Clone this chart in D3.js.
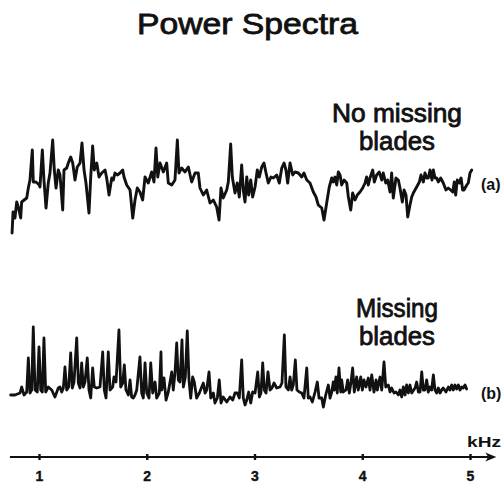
<!DOCTYPE html>
<html>
<head>
<meta charset="utf-8">
<script src="https://cdn.jsdelivr.net/npm/d3@7"></script>
<style>
  html, body { margin: 0; padding: 0; background: #fff; }
  svg { display: block; }
  text { font-family: "Liberation Sans", Arial, Helvetica, sans-serif; fill: #111; }
  text.heavy { stroke: #111; stroke-width: 0.8; paint-order: stroke; }
</style>
</head>
<body>
<svg id="chart" width="504" height="483"></svg>
<script>
// ---- Data (frequency in Hz, relative spectral level in arbitrary units) ----
const freqA = [
  750,759,777,793,808,830,839,886,901,916,
  938,947,972,1003,1009,1031,1046,1065,1086,1102,
  1127,1142,1158,1179,1195,1220,1232,1257,1272,1294,
  1313,1334,1355,1381,1399,1418,1436,1464,1480,1498,
  1513,1536,1557,1582,1613,1628,1650,1675,1690,1705,
  1727,1752,1777,1789,1814,1845,1870,1891,1912,1937,
  1962,1984,2014,2046,2067,2086,2102,2123,2154,2185,
  2200,2232,2262,2284,2299,2324,2355,2386,2417,2448,
  2478,2494,2525,2556,2587,2618,2649,2671,2689,2710,
  2742,2757,2779,2794,2819,2840,2859,2881,2896,2912,
  2928,2946,2965,2983,3005,3026,3045,3067,3088,3107,
  3128,3153,3175,3206,3230,3253,3274,3292,3308,3330,
  3355,3376,3407,3438,3459,3485,3515,3546,3571,3592,
  3624,3645,3670,3694,3717,3731,3747,3763,3778,3794,
  3809,3831,3856,3871,3893,3911,3933,3954,3979,4004,
  4026,4041,4056,4072,4097,4112,4134,4158,4181,4195,
  4218,4236,4258,4273,4288,4313,4335,4350,4372,4388,
  4406,4422,4443,4459,4474,4505,4530,4545,4567,4582,
  4598,4613,4629,4647,4660,4675,4691,4706,4728,4752,
  4777,4799,4821,4840,4854,4867,4882,4901,4917,4932,
  4944,4970,4984,5000,5016
];
const levelA = [
  2,23,17,33,28,17,33,37,47,55,
  85,53,53,50,48,85,55,27,52,62,
  95,65,47,65,60,25,65,67,72,78,
  72,55,68,72,92,65,52,22,58,89,
  65,72,58,62,65,57,40,57,55,62,
  60,62,65,58,50,45,17,35,47,43,
  35,58,52,63,53,87,58,72,63,72,
  52,50,55,95,62,67,63,68,53,62,
  62,47,40,45,32,35,28,15,47,37,
  45,53,91,58,42,52,38,70,45,33,
  58,40,55,38,48,65,58,68,72,62,
  52,58,57,60,52,67,72,65,52,72,
  60,63,62,58,62,55,52,43,38,30,
  27,15,32,48,57,53,58,50,63,60,
  50,55,52,38,25,42,35,40,43,47,
  52,58,50,57,65,53,60,63,55,62,
  52,55,43,62,37,57,55,47,33,45,
  40,18,30,38,42,48,53,60,53,62,
  57,57,65,55,65,57,57,53,57,52,
  45,47,45,43,53,40,55,52,57,45,
  45,50,52,62,65
];
const freqB = [
  737,777,824,839,861,886,901,916,932,947,
  963,984,1000,1016,1031,1046,1062,1086,1118,1148,
  1179,1195,1211,1226,1241,1257,1276,1294,1309,1325,
  1350,1365,1381,1396,1411,1427,1448,1464,1480,1498,
  1513,1536,1566,1591,1606,1622,1643,1659,1684,1696,
  1715,1742,1758,1777,1792,1807,1829,1845,1860,1875,
  1891,1907,1937,1953,1968,1984,2000,2021,2037,2055,
  2077,2092,2117,2132,2139,2160,2179,2200,2216,2232,
  2246,2262,2278,2293,2309,2327,2340,2358,2376,2392,
  2408,2426,2441,2463,2488,2510,2525,2541,2556,2578,
  2594,2618,2633,2655,2673,2689,2710,2742,2773,2798,
  2819,2840,2859,2881,2896,2912,2928,2946,2965,2983,
  3005,3030,3045,3060,3076,3091,3107,3125,3144,3162,
  3181,3206,3237,3255,3277,3292,3314,3330,3345,3360,
  3379,3394,3416,3438,3459,3485,3499,3515,3537,3562,
  3583,3599,3624,3639,3661,3685,3701,3717,3731,3741,
  3756,3768,3784,3800,3809,3824,3849,3865,3880,3896,
  3911,3926,3948,3963,3986,4001,4016,4035,4056,4072,
  4088,4109,4128,4140,4165,4181,4202,4218,4242,4258,
  4273,4295,4313,4335,4350,4366,4381,4397,4412,4428,
  4443,4459,4490,4505,4521,4536,4552,4567,4582,4598,
  4613,4629,4644,4660,4675,4691,4706,4722,4737,4752,
  4777,4799,4814,4830,4845,4861,4876,4892,4907,4923,
  4938,4954,4969
];
const levelB = [
  15,15,17,23,15,18,52,17,20,83,
  20,18,63,20,18,72,18,23,20,13,
  22,23,18,22,43,20,23,57,22,28,
  72,27,22,47,23,28,52,20,12,42,
  23,22,23,58,20,12,58,20,23,33,
  28,80,23,27,45,20,15,30,13,12,
  15,20,53,17,12,47,17,12,47,17,
  28,12,17,58,20,32,10,18,28,38,
  20,37,67,30,28,70,23,33,79,30,
  12,33,28,12,17,23,27,17,20,38,
  12,17,7,12,30,7,13,8,13,10,
  17,17,12,50,12,5,10,18,7,18,
  17,38,13,17,47,20,17,38,20,22,
  27,22,23,27,75,23,20,33,20,25,
  50,20,18,17,12,42,12,13,8,18,
  28,12,12,3,15,25,12,18,28,20,
  33,17,42,18,30,18,20,30,17,28,
  42,18,33,20,33,20,30,23,32,20,
  35,18,30,20,33,20,48,23,25,18,
  22,17,18,15,20,13,23,15,25,17,
  25,17,22,28,18,18,38,20,20,30,
  18,23,20,35,20,17,22,17,20,22,
  18,23,20,25,20,25,21,25,20,23,
  22,25,21
];
const kHzTicks = [1, 2, 3, 4, 5];
const tickLabels = ["1", "2", "3", "4", "5"];
const axisExtentKHz = [0.73, 5.17];
const title = "Power Spectra";
const labelA = ["No missing", "blades"];
const labelB = ["Missing", "blades"];
const tagA = "(a)", tagB = "(b)", unit = "kHz";

// ---- Scales ----
const svg = d3.select("#chart");
svg.append("rect").attr("width", 504).attr("height", 483).attr("fill", "#fff");

const x = d3.scaleLinear().domain([1, 5]).range([39, 470]);
const yA = d3.scaleLinear().domain([0, 100]).range([235, 135]);
const yB = d3.scaleLinear().domain([0, 100]).range([410, 310]);

const seriesA = freqA.map((f, i) => ({ f: f / 1000, v: levelA[i] }));
const seriesB = freqB.map((f, i) => ({ f: f / 1000, v: levelB[i] }));

const lineA = d3.line().x(d => x(d.f)).y(d => yA(d.v));
const lineB = d3.line().x(d => x(d.f)).y(d => yB(d.v));

svg.append("path").datum(seriesA).attr("d", lineA)
  .attr("fill", "none").attr("stroke", "#111").attr("stroke-width", 2.9)
  .attr("stroke-linejoin", "round").attr("stroke-linecap", "round");
svg.append("path").datum(seriesB).attr("d", lineB)
  .attr("fill", "none").attr("stroke", "#111").attr("stroke-width", 2.8)
  .attr("stroke-linejoin", "round").attr("stroke-linecap", "round");

// ---- Title & labels ----
svg.append("text").attr("class", "heavy").attr("x", 247.5).attr("y", 34).attr("text-anchor", "middle")
  .attr("font-size", 29).attr("textLength", 221).attr("lengthAdjust", "spacingAndGlyphs")
  .text(title);

const labA = svg.append("g");
labA.append("text").attr("class", "heavy").attr("x", 397).attr("y", 122).attr("text-anchor", "middle")
  .attr("font-size", 25).attr("textLength", 130).attr("lengthAdjust", "spacingAndGlyphs").text(labelA[0]);
labA.append("text").attr("class", "heavy").attr("x", 397).attr("y", 150).attr("text-anchor", "middle")
  .attr("font-size", 25).attr("textLength", 76).attr("lengthAdjust", "spacingAndGlyphs").text(labelA[1]);

const labB = svg.append("g");
labB.append("text").attr("class", "heavy").attr("x", 397).attr("y", 317).attr("text-anchor", "middle")
  .attr("font-size", 25).attr("textLength", 82).attr("lengthAdjust", "spacingAndGlyphs").text(labelB[0]);
labB.append("text").attr("class", "heavy").attr("x", 397).attr("y", 345).attr("text-anchor", "middle")
  .attr("font-size", 25).attr("textLength", 76).attr("lengthAdjust", "spacingAndGlyphs").text(labelB[1]);

svg.append("text").attr("x", 481).attr("y", 190).attr("font-size", 16)
  .attr("font-weight", "bold").text(tagA);
svg.append("text").attr("x", 481).attr("y", 399).attr("font-size", 16)
  .attr("font-weight", "bold").text(tagB);

// ---- Axis ----
const axisY = 457;
const axisG = svg.append("g").attr("transform", `translate(0,${axisY})`);
axisG.append("line")
  .attr("x1", x(axisExtentKHz[0])).attr("x2", x(axisExtentKHz[1]))
  .attr("y1", 0).attr("y2", 0)
  .attr("stroke", "#111").attr("stroke-width", 2.2);
const tip = x(axisExtentKHz[1]) + 8;
axisG.append("path")
  .attr("d", `M${tip},0 L${tip - 11},-4.5 L${tip - 8},0 L${tip - 11},4.5 Z`)
  .attr("fill", "#111");

const axis = d3.axisBottom(x).tickValues(kHzTicks)
  .tickFormat((d, i) => tickLabels[i]).tickSize(0).tickPadding(14);
const ag = axisG.append("g").call(axis);
ag.select(".domain").remove();
ag.selectAll(".tick line").attr("y1", -3).attr("y2", 3)
  .attr("stroke", "#111").attr("stroke-width", 2.4);
ag.selectAll(".tick text")
  .attr("font-family", "'Liberation Sans', Arial, sans-serif")
  .attr("font-size", 14).attr("font-weight", "bold").attr("fill", "#111")
  .attr("stroke", "#111").attr("stroke-width", 0.4);

svg.append("text").attr("x", 467).attr("y", 447).attr("font-size", 15)
  .attr("font-weight", "bold").attr("textLength", 34).attr("lengthAdjust", "spacingAndGlyphs")
  .text(unit);
</script>
</body>
</html>
